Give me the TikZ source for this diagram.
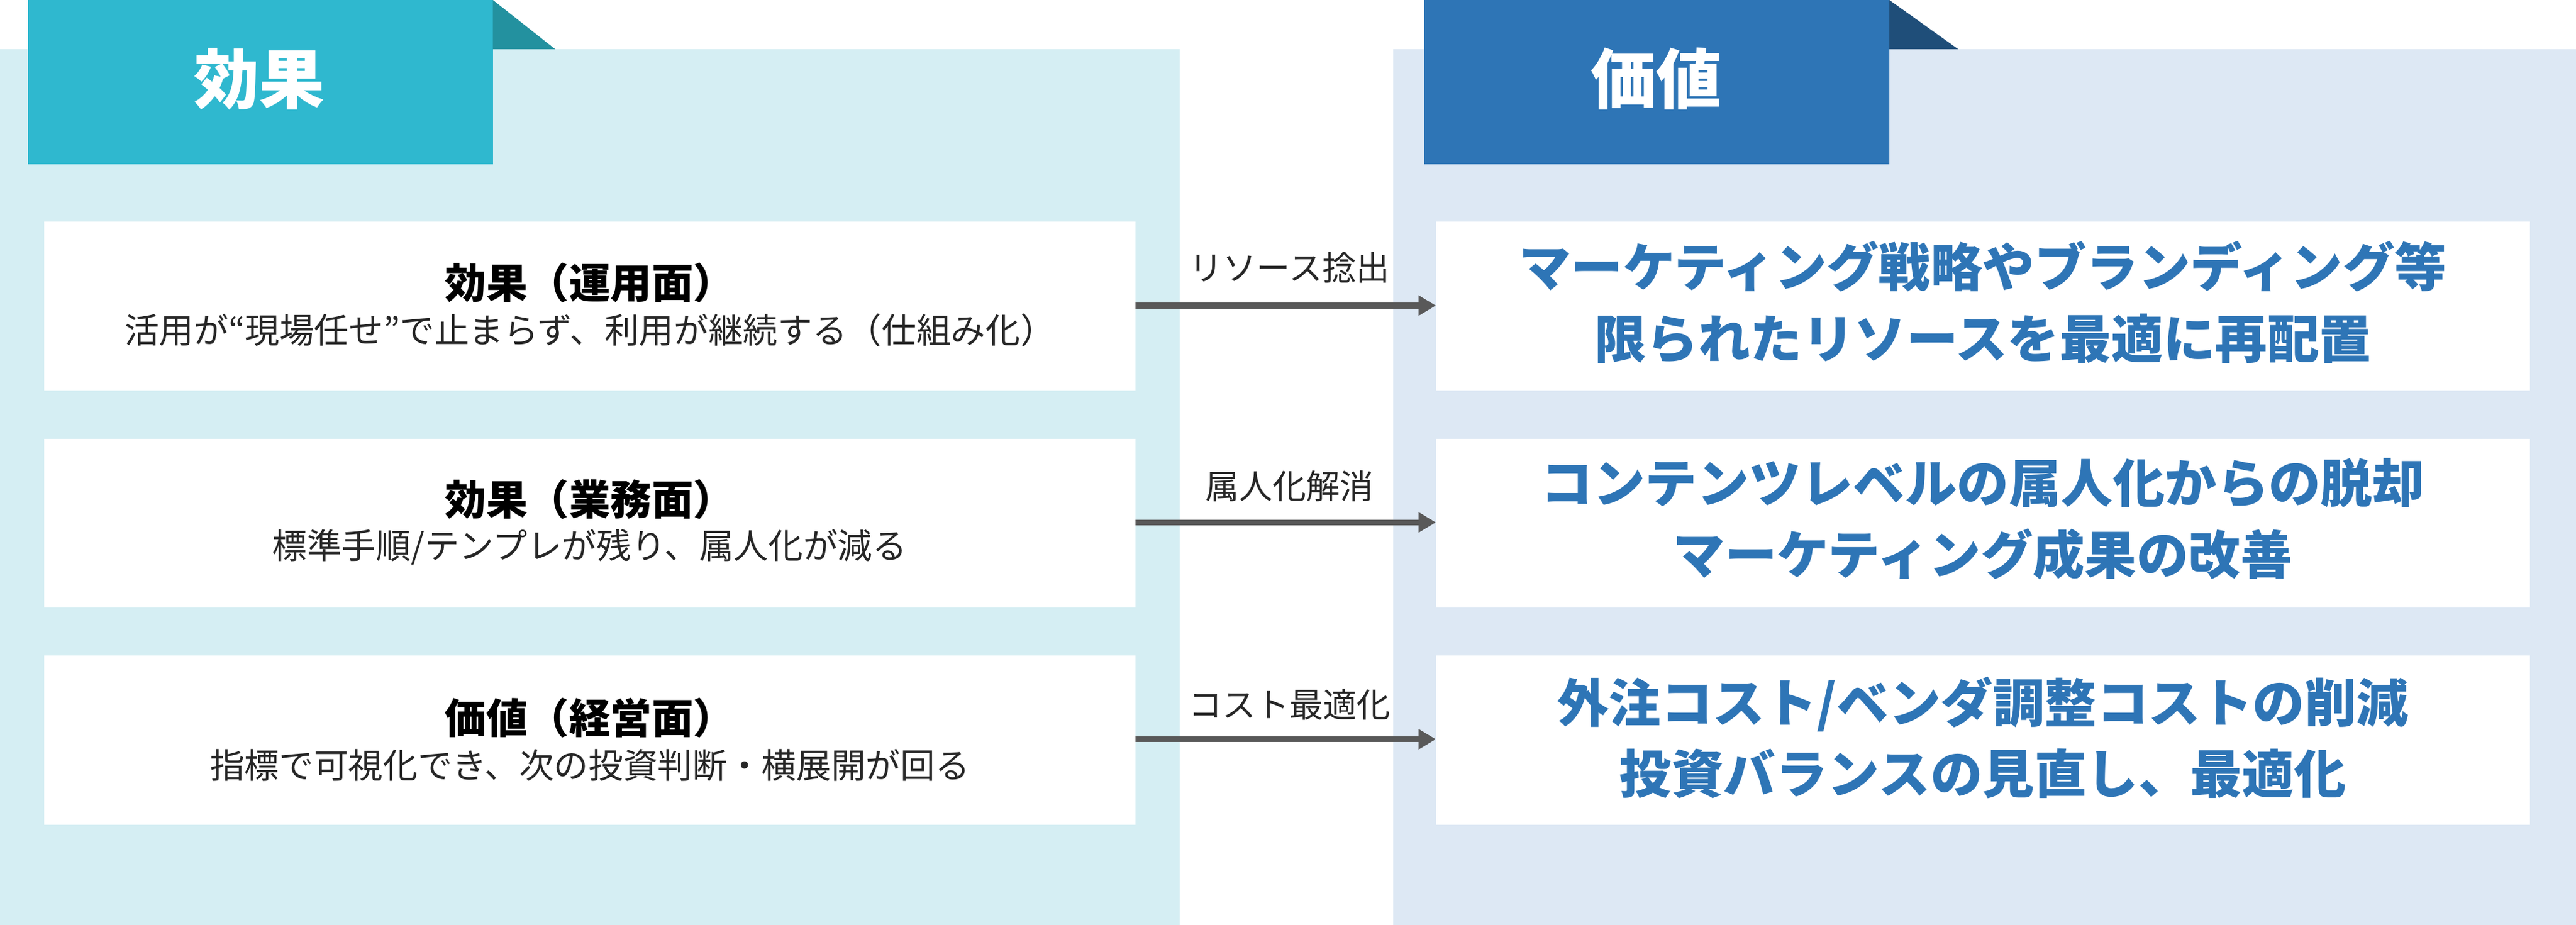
\documentclass[tikz,border=0pt]{standalone}
\usepackage{fontspec}
\setmainfont{Noto Sans CJK JP}
\usetikzlibrary{arrows.meta}
\definecolor{lpanel}{HTML}{D5EEF3}
\definecolor{rpanel}{HTML}{DDE8F4}
\definecolor{ltab}{HTML}{2FB8CF}
\definecolor{ltabd}{HTML}{23919F}
\definecolor{rtab}{HTML}{2E75B6}
\definecolor{rtabd}{HTML}{1F4E79}
\definecolor{arr}{HTML}{595959}
\begin{document}
\begin{tikzpicture}[x=0.03cm,y=-0.03cm,
  box/.style={fill=white,draw=none},
  tabtxt/.style={text=white,font=\fontsize{34}{40}\selectfont\bfseries},
  ttl/.style={font=\fontsize{21.5}{24}\selectfont\bfseries,text=black},
  sub/.style={font=\fontsize{18}{20}\selectfont,text=black!85},
  val/.style={font=\fontsize{27}{37}\selectfont\bfseries,text=rtab,align=center},
  lab/.style={font=\fontsize{17.5}{20}\selectfont,text=black!85},
  ar/.style={draw=arr,line width=3pt,-{Triangle[length=9pt,width=10pt]}}]
\useasboundingbox (0,0) rectangle (1568,563);
\fill[lpanel] (0,30) rectangle (718,563);
\fill[rpanel] (848,30) rectangle (1568,563);
\fill[ltab] (17,0) rectangle (300,100);
\fill[ltabd] (300,0) -- (338,30) -- (300,30) -- cycle;
\fill[rtab] (867,0) rectangle (1150,100);
\fill[rtabd] (1150,0) -- (1192,30) -- (1150,30) -- cycle;
\node[tabtxt] (t1) at (158,48) {効果};
\node[tabtxt] (t2) at (1008,48) {価値};
\foreach \i/\y in {1/135,2/267,3/399}{
  \path[box] (27,\y) rectangle (691,\y+103);
  \path[box] (874,\y) rectangle (1540,\y+103);
  \coordinate (L\i) at (691,\y+51);
  \coordinate (R\i) at (874,\y+51);
}
\node[ttl] (a1) at (359,172) {効果（運用面）};
\node[sub] (b1) at (359,201) {活用が“現場任せ”で止まらず、利用が継続する（仕組み化）};
\node[ttl] (a2) at (359,304) {効果（業務面）};
\node[sub] (b2) at (359,333) {標準手順/テンプレが残り、属人化が減る};
\node[ttl] (a3) at (359,437) {価値（経営面）};
\node[sub] (b3) at (359,466) {指標で可視化でき、次の投資判断・横展開が回る};
\node[val] (v1) at (1207,184) {マーケティング戦略やブランディング等\\限られたリソースを最適に再配置};
\node[val] (v2) at (1207,316) {コンテンツレベルの属人化からの脱却\\マーケティング成果の改善};
\node[val] (v3) at (1207,449) {外注コスト/ベンダ調整コストの削減\\投資バランスの見直し、最適化};
\draw[ar] (L1) -- (R1);
\draw[ar] (L2) -- (R2);
\draw[ar] (L3) -- (R3);
\node[lab] (l1) at (785,163) {リソース捻出};
\node[lab] (l2) at (785,296) {属人化解消};
\node[lab] (l3) at (785,429) {コスト最適化};
\end{tikzpicture}
\end{document}
